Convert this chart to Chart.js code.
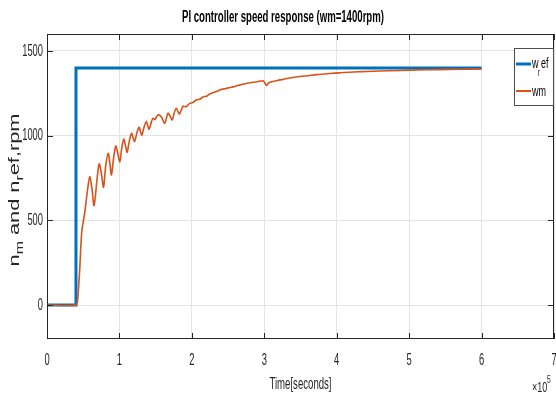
<!DOCTYPE html>
<html lang="en">
<head>
    <meta charset="utf-8"/>
    <script src="https://cdn.jsdelivr.net/npm/chart.js@4.4.1/dist/chart.umd.min.js"></script>
    <style>
        html, body { margin: 0; padding: 0; background: #fff; }
        #wrap { width: 556px; height: 401px; }
    </style>
</head>
<body>
    <div id="wrap"><canvas id="chart"></canvas></div>
    <script>
        // speed reference (step at 0.4e5 s)
        const refTime = [0, 0.4, 0.4, 6];
        const refSpeed = [0, 0, 1400, 1400];

        const wmTime = [
            0, 0.40, 0.42, 0.45, 0.48, 0.52, 0.56, 0.59, 0.62, 0.65,
            0.69, 0.72, 0.75, 0.78, 0.81, 0.845, 0.87, 0.89, 0.92, 0.95,
            0.98, 1.005, 1.03, 1.06, 1.085, 1.106, 1.135, 1.166, 1.19, 1.21,
            1.24, 1.27, 1.29, 1.31, 1.34, 1.37, 1.39, 1.41, 1.44, 1.465,
            1.49, 1.53, 1.58, 1.625, 1.67, 1.70, 1.73, 1.76, 1.786, 1.81,
            1.83, 1.878, 1.92, 1.97, 2.01, 2.06, 2.11, 2.16, 2.20, 2.245,
            2.30, 2.34, 2.40, 2.45, 2.50, 2.57, 2.63, 2.70, 2.80, 2.90,
            2.98, 3.01, 3.03, 3.06, 3.10, 3.18, 3.26, 3.35, 3.49, 3.60,
            3.72, 3.83, 3.94, 4.05, 4.17, 4.30, 4.40, 4.60, 4.86, 5.10,
            5.40, 5.70, 6.00
        ];
        const wmSpeed = [
            0, 0, 20, 200, 433, 543, 680, 758, 690, 587,
            740, 833, 780, 695, 820, 896, 830, 768, 870, 939,
            890, 846, 920, 979, 940, 902, 965, 1014, 985, 965,
            1015, 1050, 1025, 1004, 1050, 1083, 1060, 1038, 1080, 1103,
            1095, 1122, 1110, 1073, 1132, 1115, 1093, 1140, 1162, 1140,
            1128, 1175, 1170, 1191, 1195, 1211, 1215, 1230, 1232, 1246,
            1255, 1260, 1272, 1276, 1282, 1288, 1296, 1303, 1312, 1318,
            1324, 1310, 1296, 1312, 1318, 1326, 1332, 1340, 1349, 1354,
            1360, 1364, 1368, 1371, 1374, 1377, 1379, 1382, 1385, 1388,
            1390, 1392, 1393
        ];

        const yTicks = [0, 500, 1000, 1500];
        const xTicks = [0, 1, 2, 3, 4, 5, 6, 7];
        const titleText = "PI controller speed response (wm=1400rpm)";
        const xLabel = "Time[seconds]";

        const BLUE = "#0072BD";
        const ORANGE = "#D95319";
        const FONT = "'Liberation Sans', Arial, sans-serif";
        const TEXT = "#262626";

        function pts(xs, ys) {
            return xs.map((x, i) => ({ x: x, y: ys[i] }));
        }

        // the reference uses a squeezed font, so text is drawn with a horizontal scale
        function squeezed(ctx, text, x, y, font, sx, align, baseline) {
            ctx.save();
            ctx.font = font;
            ctx.textAlign = align;
            ctx.textBaseline = baseline;
            ctx.translate(x, y);
            ctx.scale(sx, 1);
            ctx.fillText(text, 0, 0);
            ctx.restore();
        }

        const decorations = {
            id: "decorations",
            afterDraw(chart) {
                const ctx = chart.ctx;
                const a = chart.chartArea;
                const xs = chart.scales.x, ys = chart.scales.y;
                ctx.save();

                // frame and inward ticks
                ctx.strokeStyle = TEXT;
                ctx.lineWidth = 1;
                ctx.strokeRect(a.left + 0.5, a.top + 0.5, a.right - a.left - 1, a.bottom - a.top - 1);
                ctx.beginPath();
                xTicks.forEach(v => {
                    const px = Math.round(xs.getPixelForValue(v)) + 0.5;
                    ctx.moveTo(px, a.bottom); ctx.lineTo(px, a.bottom - 6);
                    ctx.moveTo(px, a.top); ctx.lineTo(px, a.top + 6);
                });
                yTicks.forEach(v => {
                    const py = Math.round(ys.getPixelForValue(v)) + 0.5;
                    ctx.moveTo(a.left, py); ctx.lineTo(a.left + 6, py);
                    ctx.moveTo(a.right, py); ctx.lineTo(a.right - 6, py);
                });
                ctx.stroke();

                // tick labels
                ctx.fillStyle = TEXT;
                yTicks.forEach(v => {
                    squeezed(ctx, String(v), a.left - 4, ys.getPixelForValue(v), "17px " + FONT, 0.55, "right", "middle");
                });
                xTicks.forEach(v => {
                    squeezed(ctx, String(v), xs.getPixelForValue(v), a.bottom + 21, "17px " + FONT, 0.55, "center", "middle");
                });

                // title
                ctx.fillStyle = "#000";
                squeezed(ctx, titleText, 283, 18, "bold 16px " + FONT, 0.6, "center", "middle");

                // x label and exponent
                ctx.fillStyle = TEXT;
                squeezed(ctx, xLabel, (a.left + a.right) / 2, 385, "16px " + FONT, 0.6, "center", "middle");
                squeezed(ctx, "\u00d710", 532, 392, "15px " + FONT, 0.6, "left", "alphabetic");
                squeezed(ctx, "5", 547, 383, "11px " + FONT, 0.6, "left", "alphabetic");

                // y label with subscripts, stretched along the text
                ctx.save();
                ctx.translate(19, 190);
                ctx.rotate(-Math.PI / 2);
                const parts = [["n", 0], ["m", 1], [" and n", 0], ["r", 1], ["ef,rpm", 0]];
                const fontFor = p => (p[1] ? "11px " : "15px ") + FONT;
                let total = 0;
                parts.forEach(p => { ctx.font = fontFor(p); total += ctx.measureText(p[0]).width; });
                const sx = 1.45;
                let cx = -total * sx / 2;
                parts.forEach(p => {
                    ctx.font = fontFor(p);
                    squeezed(ctx, p[0], cx, p[1] ? 4 : 0, fontFor(p), sx, "left", "alphabetic");
                    cx += ctx.measureText(p[0]).width * sx;
                });
                ctx.restore();

                // legend
                ctx.fillStyle = "#fff";
                ctx.fillRect(514, 48, 39, 57);
                ctx.strokeStyle = "#4d4d4d";
                ctx.strokeRect(514.5, 48.5, 39, 57);
                ctx.lineWidth = 3;
                ctx.strokeStyle = BLUE;
                ctx.beginPath(); ctx.moveTo(516, 64); ctx.lineTo(531, 64); ctx.stroke();
                ctx.lineWidth = 2;
                ctx.strokeStyle = ORANGE;
                ctx.beginPath(); ctx.moveTo(516, 91); ctx.lineTo(531, 91); ctx.stroke();
                ctx.fillStyle = "#000";
                squeezed(ctx, "w ef", 532, 68, "15px " + FONT, 0.6, "left", "alphabetic");
                squeezed(ctx, "r", 538, 76, "10px " + FONT, 0.6, "left", "alphabetic");
                squeezed(ctx, "wm", 532, 96, "15px " + FONT, 0.6, "left", "alphabetic");
                ctx.restore();
            }
        };

        new Chart(document.getElementById("chart"), {
            type: "line",
            data: {
                datasets: [
                    {
                        label: "wm",
                        data: pts(wmTime, wmSpeed),
                        borderColor: ORANGE,
                        borderWidth: 1.6,
                        pointRadius: 0,
                        tension: 0.3,
                        order: 0
                    },
                    {
                        label: "wref",
                        data: pts(refTime, refSpeed),
                        borderColor: BLUE,
                        borderWidth: 3,
                        pointRadius: 0,
                        order: 1
                    }
                ]
            },
            options: {
                responsive: true,
                maintainAspectRatio: false,
                animation: false,
                layout: { padding: { top: 34, right: 2, left: 0, bottom: 0 } },
                plugins: {
                    legend: { display: false },
                    tooltip: { enabled: false }
                },
                scales: {
                    x: {
                        type: "linear",
                        min: 0,
                        max: 7,
                        border: { display: false },
                        grid: { color: "#e3e3e3", drawTicks: false },
                        ticks: { stepSize: 1, display: false },
                        afterFit(scale) { scale.height = 62; }
                    },
                    y: {
                        min: -200,
                        max: 1600,
                        border: { display: false },
                        grid: { color: "#e3e3e3", drawTicks: false },
                        afterBuildTicks(scale) {
                            scale.ticks = yTicks.map(v => ({ value: v }));
                        },
                        ticks: { display: false },
                        afterFit(scale) { scale.width = 47; }
                    }
                }
            },
            plugins: [decorations]
        });
    </script>
</body>
</html>
